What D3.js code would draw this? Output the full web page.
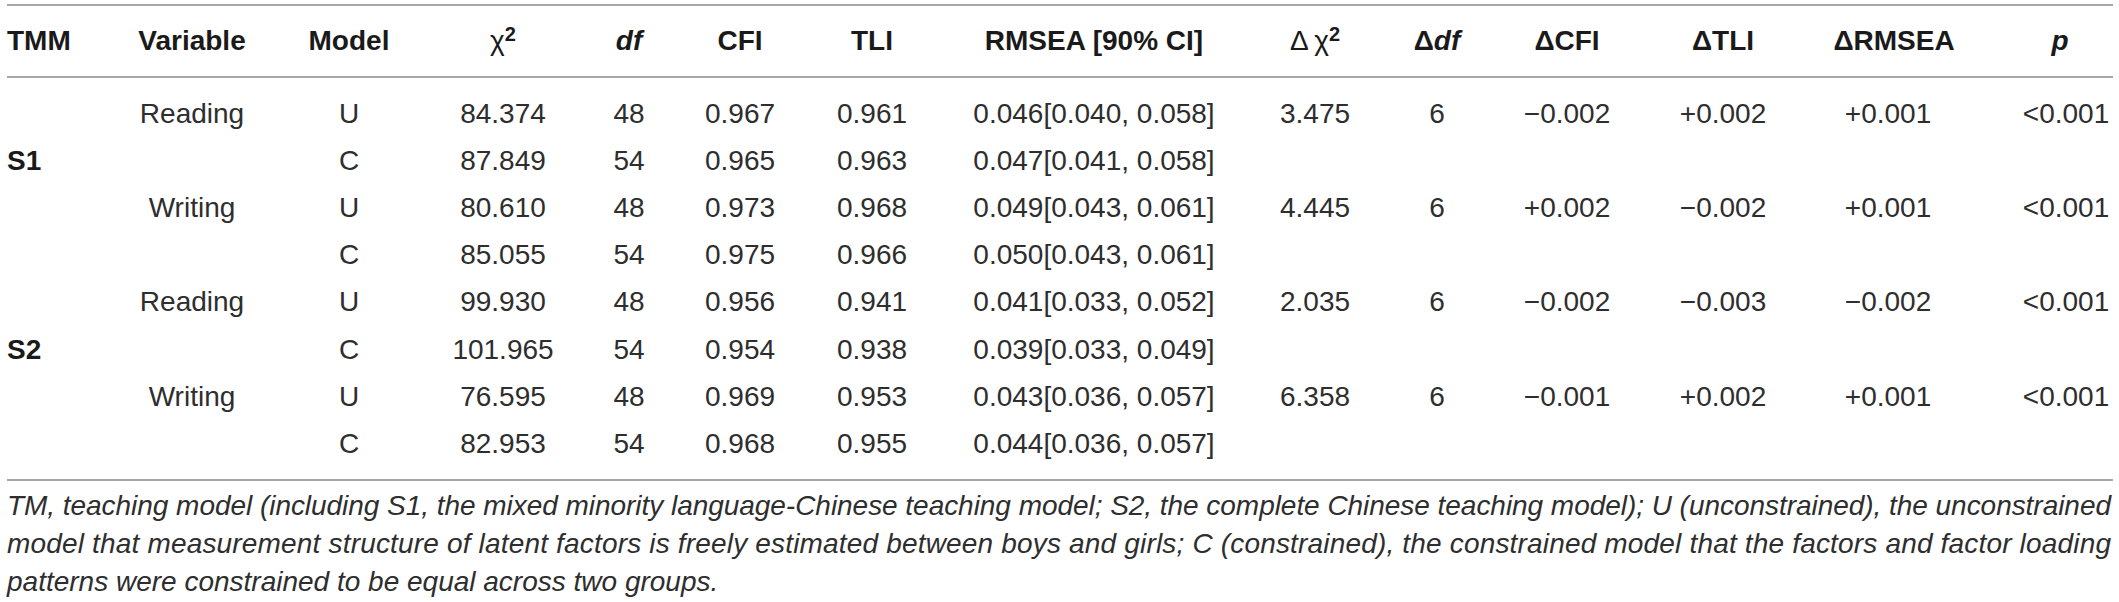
<!DOCTYPE html>
<html>
<head>
<meta charset="utf-8">
<script src="https://cdn.jsdelivr.net/npm/d3@7"></script>
<style>
    body { margin: 0; background: #fff; }
    svg text { font-family: "Liberation Sans", Arial, sans-serif; }
    .head { font-weight: bold; fill: #1a1a1a; }
    .cell { fill: #2e2e2e; }
    .note { font-style: italic; fill: #2e2e2e; }
    .rule { stroke: #a6a6a6; stroke-width: 2; }
</style>
</head>
<body>
<div id="table-area"></div>
<script>

// Table data
var columns = ["tmm", "variable", "model", "chi2", "df", "cfi", "tli", "rmsea", "dchi2", "ddf", "dcfi", "dtli", "drmsea", "p"];

var tmmLabels = ["", "S1", "", "", "", "S2", "", ""];
var variables = ["Reading", "", "Writing", "", "Reading", "", "Writing", ""];
var models = ["U", "C", "U", "C", "U", "C", "U", "C"];
var chi2 = ["84.374", "87.849", "80.610", "85.055", "99.930", "101.965", "76.595", "82.953"];
var df = ["48", "54", "48", "54", "48", "54", "48", "54"];
var cfi = ["0.967", "0.965", "0.973", "0.975", "0.956", "0.954", "0.969", "0.968"];
var tli = ["0.961", "0.963", "0.968", "0.966", "0.941", "0.938", "0.953", "0.955"];
var rmsea = ["0.046[0.040, 0.058]", "0.047[0.041, 0.058]", "0.049[0.043, 0.061]", "0.050[0.043, 0.061]",
             "0.041[0.033, 0.052]", "0.039[0.033, 0.049]", "0.043[0.036, 0.057]", "0.044[0.036, 0.057]"];
var dchi2 = ["3.475", "", "4.445", "", "2.035", "", "6.358", ""];
var ddf = ["6", "", "6", "", "6", "", "6", ""];
var dcfi = ["\u22120.002", "", "+0.002", "", "\u22120.002", "", "\u22120.001", ""];
var dtli = ["+0.002", "", "\u22120.002", "", "\u22120.003", "", "+0.002", ""];
var drmsea = ["+0.001", "", "+0.001", "", "\u22120.002", "", "+0.001", ""];
var pvals = ["<0.001", "", "<0.001", "", "<0.001", "", "<0.001", ""];

var footnote = [
    "TM, teaching model (including S1, the mixed minority language-Chinese teaching model; S2, the complete Chinese teaching model); U (unconstrained), the unconstrained",
    "model that measurement structure of latent factors is freely estimated between boys and girls; C (constrained), the constrained model that the factors and factor loading",
    "patterns were constrained to be equal across two groups."
];

// rows built from the arrays
var rows = models.map(function(m, i) {
    return {
        tmm: tmmLabels[i], variable: variables[i], model: m, chi2: chi2[i], df: df[i],
        cfi: cfi[i], tli: tli[i], rmsea: rmsea[i], dchi2: dchi2[i], ddf: ddf[i],
        dcfi: dcfi[i], dtli: dtli[i], drmsea: drmsea[i], p: pvals[i]
    };
});

var width = 2119, height = 602;
var fontSize = 28;

var svg = d3.select("#table-area").append("svg")
    .attr("width", width)
    .attr("height", height);

// column centres
var colX = d3.scaleOrdinal()
    .domain(columns)
    .range([7, 192, 349, 503, 629, 740, 872, 1094, 1315, 1437, 1567, 1723, 1888, 2066]);

var rowY = d3.scaleLinear()
    .domain([0, rows.length - 1])
    .range([113, 443]);

var headY = 40;
var left = 7, right = 2113;

// rules
[5, 77, 480].forEach(function(y) {
    svg.append("line")
        .attr("class", "rule")
        .attr("x1", left).attr("x2", right)
        .attr("y1", y).attr("y2", y);
});

// header
var head = svg.append("g").attr("class", "header");

function headText(col, dx) {
    return head.append("text")
        .attr("class", "head")
        .attr("x", colX(col) + (dx || 0))
        .attr("y", headY)
        .attr("dy", "0.35em")
        .attr("font-size", fontSize)
        .attr("text-anchor", col === "tmm" ? "start" : "middle");
}

headText("tmm").text("TMM");
headText("variable").text("Variable");
headText("model").text("Model");

var hc = headText("chi2");
hc.append("tspan").attr("font-weight", "normal").text("\u03c7");
hc.append("tspan").attr("dy", "-0.45em").attr("font-size", 20).text("2");

headText("df").append("tspan").attr("font-style", "italic").text("df");
headText("cfi").text("CFI");
headText("tli").text("TLI");
headText("rmsea").text("RMSEA [90% CI]");

var hdc = headText("dchi2");
hdc.append("tspan").attr("font-weight", "normal").text("\u0394\u2009\u03c7");
hdc.append("tspan").attr("dy", "-0.45em").attr("font-size", 20).text("2");

var hdd = headText("ddf");
hdd.append("tspan").text("\u0394");
hdd.append("tspan").attr("font-style", "italic").text("df");

headText("dcfi").text("\u0394CFI");
headText("dtli").text("\u0394TLI");
headText("drmsea", 6).text("\u0394RMSEA");
headText("p", -6).append("tspan").attr("font-style", "italic").text("p");

// body cells
var body = svg.append("g").attr("class", "body");

rows.forEach(function(r, i) {
    columns.forEach(function(col) {
        if (!r[col]) return;
        body.append("text")
            .attr("class", col === "tmm" ? "head" : "cell")
            .attr("x", colX(col))
            .attr("y", rowY(i))
            .attr("dy", "0.35em")
            .attr("font-size", fontSize)
            .attr("text-anchor", col === "tmm" ? "start" : "middle")
            .text(r[col]);
    });
});

// footnote, first two lines justified
svg.append("g").attr("class", "footnote")
    .selectAll("text")
    .data(footnote)
    .enter().append("text")
    .attr("class", "note")
    .attr("x", left)
    .attr("y", function(d, i) { return 505 + i * 38; })
    .attr("dy", "0.35em")
    .attr("font-size", 28)
    .attr("textLength", function(d, i) { return i < 2 ? right - left - 2 : null; })
    .attr("lengthAdjust", "spacing")
    .text(function(d) { return d; });

</script>
</body>
</html>
